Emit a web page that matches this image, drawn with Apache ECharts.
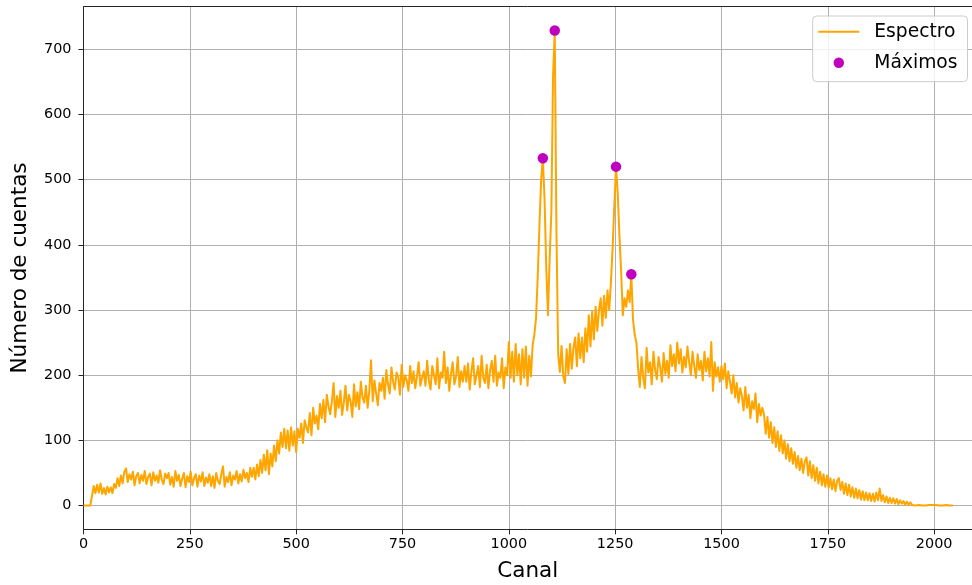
<!DOCTYPE html>
<html>
<head>
<meta charset="utf-8">
<script src="https://cdn.jsdelivr.net/npm/echarts@6/dist/echarts.min.js"></script>
<style>
html, body { margin: 0; padding: 0; background: #ffffff; }
#grafico { width: 972px; height: 585px; }
</style>
</head>
<body>
<div id="grafico"></div>
<script>
// Espectro: cuentas registradas, un valor cada PASO canales empezando en el canal 0
const PASO = 4;
const cuentas = [
  0,0,0,0,0,0,30,19,32,20,34,18,27,17,29,20,28,19,33,27,42,30,46,34,52,
  57,36,48,40,52,31,45,50,34,47,38,53,33,44,49,31,51,38,46,35,54,40,33,49,42,
  50,32,44,29,53,38,47,30,41,50,28,45,36,52,31,42,48,29,46,37,51,30,43,35,48,
  30,45,27,50,38,33,48,60,29,44,36,51,31,46,40,53,34,48,37,55,42,50,36,58,44,
  58,40,63,45,70,50,78,54,85,48,80,60,92,68,100,80,112,90,118,88,115,84,120,92,114,
  82,118,104,126,96,131,120,112,142,108,150,126,138,117,156,134,162,128,170,152,140,160,188,136,168,
  150,176,139,158,184,146,170,160,136,186,152,174,148,190,166,158,184,150,176,223,160,192,172,154,188,
  176,196,164,208,186,172,212,190,178,204,198,170,216,182,200,192,176,214,188,206,180,198,220,184,196,
  206,184,222,192,178,214,200,186,226,180,204,196,236,188,212,176,202,220,186,198,228,182,206,190,214,
  190,218,178,206,226,186,200,214,182,230,196,188,216,180,208,222,190,230,184,204,196,226,180,212,200,
  251,196,236,190,248,200,232,186,240,196,244,184,230,198,246,262,288,352,430,500,533,470,365,292,380,
  450,660,729,420,232,205,245,198,188,240,202,248,210,242,258,214,264,226,258,220,272,236,292,244,298,
  255,305,268,300,318,276,322,288,330,300,342,395,460,520,480,415,360,292,318,305,330,312,355,285,262,
  250,210,182,228,196,180,242,204,220,186,236,208,194,228,212,190,234,202,222,196,246,214,232,206,250,
  218,240,204,228,212,244,220,200,236,214,196,232,208,222,192,236,206,226,198,251,176,220,198,212,190,
  214,194,218,180,206,190,172,200,166,188,158,180,168,146,182,150,170,134,160,148,172,128,156,138,150,
  140,110,136,104,128,96,120,90,114,84,108,80,100,72,94,68,88,64,82,58,76,54,72,50,68,
  74,46,68,42,62,38,58,34,52,31,48,29,46,27,42,25,40,22,38,42,24,36,18,34,16,
  32,14,28,12,26,11,24,9,22,8,20,8,19,7,18,6,20,8,26,7,16,5,14,4,12,
  4,11,3,10,2,8,3,7,1,6,1,5,1,4,0,3,1,2,0,2,0,1,1,0,1,
  0,1,0,0,1,0,0,1,0,0,1,0
];

// Canales donde el espectro alcanza sus máximos locales
const maximosCanal = [1080, 1108, 1252, 1288];

// Marcas de los ejes
const ticksX = [0, 250, 500, 750, 1000, 1250, 1500, 1750, 2000];
const ticksY = [0, 100, 200, 300, 400, 500, 600, 700];

const serieEspectro = cuentas.map((v, i) => [i * PASO, v]);
const serieMaximos = maximosCanal.map(c => [c, cuentas[c / PASO]]);

const FUENTE = 'DejaVu Sans';
const TINTA = '#000000';
const MARCO = '#262626';
const REJILLA = '#b0b0b0';
const sinSeparador = v => String(v);

const chart = echarts.init(document.getElementById('grafico'), null, { renderer: 'canvas' });

chart.setOption({
  animation: false,
  backgroundColor: '#ffffff',
  grid: {
    left: 83.5, right: 0, top: 6.7, bottom: 55.7,
    containLabel: false, outerBoundsMode: 'none'
  },
  legend: {
    orient: 'vertical',
    left: 812.7,
    top: 16,
    selectedMode: false,
    padding: [5.7, 10, 9, 5.6],
    itemGap: 11,
    itemWidth: 51,
    itemHeight: 11,
    backgroundColor: 'rgba(255,255,255,0.8)',
    borderColor: '#cccccc',
    borderWidth: 1,
    borderRadius: 4,
    textStyle: { fontFamily: FUENTE, fontSize: 18.7, color: TINTA, lineHeight: 20 },
    data: [
      { name: 'Espectro', icon: 'path://M0,0M51,11M0,4.5L41,4.5L41,6.5L0,6.5Z', itemStyle: { color: '#FFA500', borderWidth: 0 } },
      { name: 'Máximos', icon: 'path://M0,0M51,11M15.25,5.5A5.25,5.25,0,1,1,25.75,5.5A5.25,5.25,0,1,1,15.25,5.5Z', itemStyle: { color: '#BF00BF', borderWidth: 0 } }
    ]
  },
  xAxis: [
    {
      type: 'value',
      min: 0,
      max: 2089,
      position: 'bottom',
      name: 'Canal',
      nameLocation: 'middle',
      nameGap: 31,
      nameTextStyle: { fontFamily: FUENTE, fontSize: 21.5, color: TINTA },
      axisLine: { show: true, onZero: false, lineStyle: { color: MARCO, width: 1 } },
      axisTick: { show: true, length: 5, inside: false, customValues: ticksX, lineStyle: { color: MARCO, width: 1 } },
      axisLabel: { customValues: ticksX, formatter: sinSeparador, fontFamily: FUENTE, fontSize: 14.4, color: TINTA, margin: 8 },
      splitLine: { show: true, lineStyle: { color: REJILLA, width: 1 } }
    },
    {
      type: 'value',
      min: 0,
      max: 2089,
      position: 'top',
      axisLine: { show: true, onZero: false, lineStyle: { color: MARCO, width: 1 } },
      axisTick: { show: false },
      axisLabel: { show: false },
      splitLine: { show: false }
    }
  ],
  yAxis: {
    type: 'value',
    min: -36.45,
    max: 765.45,
    name: 'Número de cuentas',
    nameLocation: 'middle',
    nameGap: 52,
    nameRotate: 90,
    nameTextStyle: { fontFamily: FUENTE, fontSize: 21.5, color: TINTA },
    axisLine: { show: true, onZero: false, lineStyle: { color: MARCO, width: 1 } },
    axisTick: { show: true, length: 5, inside: false, customValues: ticksY, lineStyle: { color: MARCO, width: 1 } },
    axisLabel: { customValues: ticksY, formatter: sinSeparador, fontFamily: FUENTE, fontSize: 14.4, color: TINTA, margin: 12 },
    splitLine: { show: true, lineStyle: { color: REJILLA, width: 1 } }
  },
  series: [
    {
      name: 'Espectro',
      type: 'line',
      xAxisIndex: 0,
      data: serieEspectro,
      showSymbol: false,
      symbol: 'none',
      sampling: null,
      lineStyle: { color: '#FFA500', width: 2, join: 'round' },
      itemStyle: { color: '#FFA500' },
      z: 3
    },
    {
      name: 'Máximos',
      type: 'scatter',
      xAxisIndex: 0,
      data: serieMaximos,
      symbol: 'circle',
      symbolSize: 10.5,
      itemStyle: { color: '#BF00BF', opacity: 1 },
      z: 4
    }
  ]
});
</script>
</body>
</html>
